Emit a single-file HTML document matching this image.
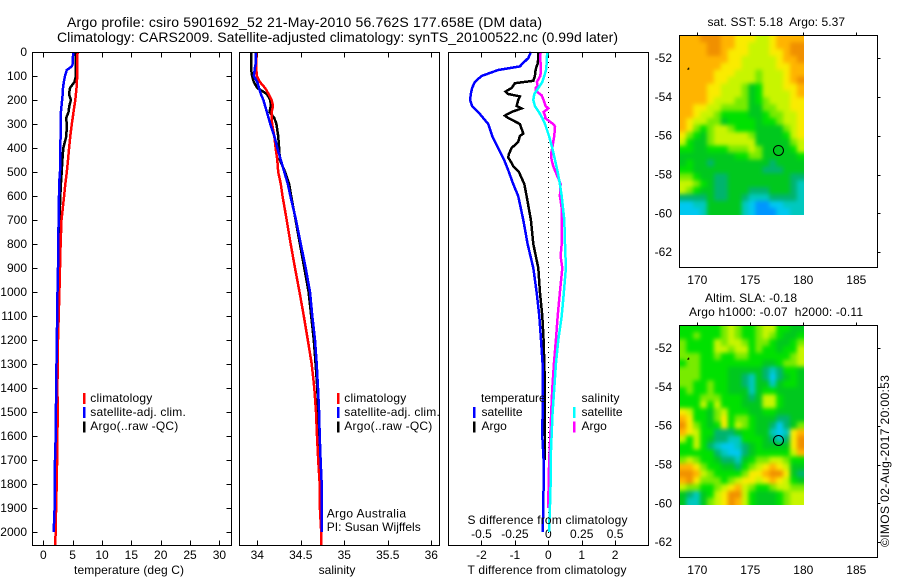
<!DOCTYPE html>
<html lang="en">
<head>
<meta charset="utf-8">
<title>Argo profile 5901692_52</title>
<style>
html,body{margin:0;padding:0;background:#fff;width:900px;height:580px;overflow:hidden}
svg{display:block}
text{font-family:"Liberation Sans",sans-serif;font-size:12px;fill:#000}
.frame{fill:none;stroke:#000;stroke-width:1;shape-rendering:crispEdges}
.title{font-size:14px}
</style>
</head>
<body>
<svg id="chart" xmlns="http://www.w3.org/2000/svg" width="900" height="580" viewBox="0 0 900 580">
  <defs>
    <clipPath id="clip-sst"><rect x="679" y="35" width="125" height="180"/></clipPath>
    <clipPath id="clip-sla"><rect x="679" y="325" width="125" height="180"/></clipPath>
    <filter id="soften" filterUnits="userSpaceOnUse" x="650" y="0" width="200" height="580" color-interpolation-filters="sRGB"><feGaussianBlur stdDeviation="2.2"/></filter>
  </defs>
  <text class="title" x="67" y="27" textLength="475">Argo profile: csiro 5901692_52 21-May-2010 56.762S 177.658E (DM data)</text>
  <text class="title" x="57" y="42" textLength="561">Climatology: CARS2009. Satellite-adjusted climatology: synTS_20100522.nc (0.99d later)</text>

  <g id="temp-panel"></g>
  <g id="sal-panel"></g>
  <g id="diff-panel"></g>
  <g id="sst-map"></g>
  <g id="sla-map"></g>

  <rect class="frame" x="32.5" y="52.5" width="199" height="493"/>
  <rect class="frame" x="239.5" y="52.5" width="200" height="493"/>
  <rect class="frame" x="448.5" y="52.5" width="200" height="493"/>
  <rect class="frame" x="679.5" y="35.5" width="198" height="232"/>
  <rect class="frame" x="679.5" y="325.5" width="198" height="232"/>

  <text x="74" y="574" textLength="110">temperature (deg C)</text>
  <text x="337" y="574" text-anchor="middle">salinity</text>
  <text x="467.5" y="574" textLength="159">T difference from climatology</text>
  <text x="467.5" y="524" textLength="160">S difference from climatology</text>

  <g>
    <rect x="83" y="393" width="2.5" height="11" fill="#f00"/>
    <rect x="83" y="407" width="2.5" height="11" fill="#00f"/>
    <rect x="83" y="421.5" width="2.5" height="11" fill="#000"/>
    <text x="90.3" y="402" textLength="62">climatology</text>
    <text x="90.3" y="416" textLength="95.5">satellite-adj. clim.</text>
    <text x="90.3" y="430" textLength="88">Argo(..raw -QC)</text>
  </g>
  <g>
    <rect x="337" y="393" width="2.5" height="11" fill="#f00"/>
    <rect x="337" y="407" width="2.5" height="11" fill="#00f"/>
    <rect x="337" y="421.5" width="2.5" height="11" fill="#000"/>
    <text x="344.3" y="402" textLength="62">climatology</text>
    <text x="344.3" y="416" textLength="95.5">satellite-adj. clim.</text>
    <text x="344.3" y="430" textLength="88">Argo(..raw -QC)</text>
    <text x="326.7" y="517.3" textLength="79.3">Argo Australia</text>
    <text x="326.7" y="531" textLength="94">PI: Susan Wijffels</text>
  </g>
  <g>
    <text x="481" y="402">temperature</text>
    <rect x="473" y="407" width="2.5" height="11" fill="#00f"/>
    <rect x="473" y="421.5" width="2.5" height="11" fill="#000"/>
    <text x="481.5" y="416" textLength="41">satellite</text>
    <text x="481.5" y="430">Argo</text>
    <text x="581.5" y="402" textLength="38">salinity</text>
    <rect x="573" y="407" width="2.5" height="11" fill="#0ff"/>
    <rect x="573" y="421.5" width="2.5" height="11" fill="#f0f"/>
    <text x="581.5" y="416" textLength="41">satellite</text>
    <text x="581.5" y="430">Argo</text>
  </g>

  <text x="707.5" y="26" textLength="137.5" xml:space="preserve">sat. SST: 5.18  Argo: 5.37</text>
  <text x="705" y="302" textLength="92">Altim. SLA: -0.18</text>
  <text x="689" y="316" textLength="174" xml:space="preserve">Argo h1000: -0.07  h2000: -0.11</text>
  <text transform="translate(889,547) rotate(-90)" textLength="172">©IMOS 02-Aug-2017 20:00:53</text>
</svg>

<script>
var depthLevels = [0,25,50,60,75,100,125,150,175,200,225,250,275,300,350,400,450,500,550,600,700,800,900,1000,1100,1200,1300,1400,1500,1600,1700,1800,1900,2000,2054];

var tempClim = [5.85,5.8,5.8,5.8,5.8,5.8,5.7,5.65,5.55,5.45,5.3,5.15,5.0,4.85,4.6,4.4,4.2,4.0,3.75,3.55,3.1,2.95,2.85,2.75,2.62,2.5,2.45,2.4,2.45,2.4,2.35,2.28,2.18,2.1,2.05];
var tempSat = [5.1,5.05,5.0,4.85,4.0,3.7,3.5,3.35,3.3,3.2,3.1,3.0,2.98,2.96,2.95,2.9,2.87,2.84,2.7,2.68,2.6,2.55,2.5,2.42,2.36,2.3,2.25,2.2,2.15,2.12,2.0,1.95,1.93,1.77,null];
var tempArgo = [5.5,5.5,5.55,5.55,5.55,5.57,5.3,4.55,4.38,4.7,4.43,4.3,3.9,3.98,3.93,3.4,3.25,3.13,3.0,2.9,2.76,2.7,2.65,2.6,2.55,2.5,2.45,2.4,2.38,2.38,2.3,2.25,2.2,null,null];

var salClim = [33.99,33.99,33.99,33.99,33.99,33.995,34.03,34.09,34.13,34.165,34.18,34.165,34.165,34.17,34.195,34.21,34.23,34.24,34.27,34.29,34.338,34.384,34.433,34.485,34.535,34.58,34.625,34.655,34.675,34.686,34.70,34.717,34.72,34.735,34.735];
var salSat = [33.98,33.98,33.98,33.975,33.97,33.96,34.0,34.02,34.04,34.07,34.09,34.11,34.13,34.15,34.195,34.23,34.27,34.31,34.35,34.38,34.445,34.50,34.556,34.606,34.632,34.663,34.683,34.698,34.71,34.717,34.728,34.74,34.743,34.743,null];
var salArgo = [33.93,33.93,33.93,33.93,33.93,33.94,33.96,34.0,34.11,34.15,34.155,34.14,34.195,34.22,34.24,34.25,34.26,34.32,34.365,34.39,34.44,34.49,34.54,34.59,34.62,34.65,34.67,34.69,34.70,34.705,34.715,34.72,34.73,null,null];

var tDiffSat = [-0.52,-0.6,-0.78,-0.85,-1.5,-2.0,-2.2,-2.28,-2.32,-2.34,-2.28,-2.1,-1.95,-1.8,-1.68,-1.5,-1.32,-1.18,-1.05,-0.9,-0.75,-0.62,-0.45,-0.35,-0.27,-0.22,-0.17,-0.16,-0.17,-0.18,-0.14,-0.14,-0.15,-0.17,null];
var sDiffSat = [-0.007,-0.012,-0.012,-0.015,-0.017,-0.03,-0.045,-0.075,-0.105,-0.112,-0.1,-0.07,-0.045,-0.025,0.005,0.03,0.05,0.07,0.087,0.1,0.12,0.125,0.132,0.117,0.1,0.075,0.057,0.045,0.032,0.025,0.017,0.017,0.012,0.005,null];

var tDiffArgoDepth = [0,25,50,60,75,100,120,130,150,165,175,185,200,225,235,250,265,275,300,320,340,350,375,400,425,440,450,475,500,550,600,700,800,900,1000,1100,1200,1300,1400,1500,1600,1700];
var tDiffArgo = [-0.3,-0.3,-0.32,-0.35,-0.38,-0.4,-0.45,-1.0,-1.1,-1.28,-1.2,-0.85,-0.9,-0.95,-0.8,-1.1,-1.3,-1.2,-0.85,-0.8,-0.75,-0.85,-0.9,-1.1,-1.18,-1.2,-1.15,-1.05,-0.88,-0.72,-0.65,-0.52,-0.45,-0.3,-0.25,-0.18,-0.14,-0.12,-0.1,-0.11,-0.1,-0.1];

var sDiffArgoDepth = [0,25,50,75,100,110,125,140,150,160,170,180,200,225,235,250,265,275,290,300,310,350,375,400,425,450,475,500,550,600,650,700,800,850,900,1000,1100,1200,1300,1400,1500,1600,1700,1800,1900];
var sDiffArgo = [-0.057,-0.062,-0.057,-0.055,-0.06,-0.07,-0.085,-0.08,-0.095,-0.095,-0.075,-0.05,-0.035,-0.02,0,-0.035,-0.025,-0.025,0.012,0.037,0.05,0.045,0.037,0.03,0.02,0.025,0.037,0.055,0.092,0.087,0.1,0.1,0.1,0.092,0.105,0.087,0.07,0.057,0.042,0.03,0.022,0.015,0.007,0.002,0];

var depthTicks = [0,100,200,300,400,500,600,700,800,900,1000,1100,1200,1300,1400,1500,1600,1700,1800,1900,2000];
var tempTicks = [0,5,10,15,20,25,30];
var salTicks = [34,34.5,35,35.5,36];
var tDiffTicks = [-2,-1,0,1,2];
var sDiffTicks = [-0.5,-0.25,0,0.25,0.5];
var lonTicks = [170,175,180,185];
var latTicks = [52,54,56,58,60,62];

var argoLon = [177.658];
var argoLat = [56.762];

var heatLonStart = [168.3];
var heatLatStart = [50.83];

var sstLevels = [
[9,9,9,10,10,10,9,9,8,8,8,7,7,8,9,9,9,9],
[9,9,9,9,10,10,9,9,8,8,7,7,7,8,9,9,10,10],
[9,9,9,9,10,10,9,8,8,8,7,7,7,8,8,9,10,10],
[9,9,9,9,9,9,9,8,8,7,7,7,7,7,8,9,9,10],
[9,9,9,9,9,9,8,8,8,7,7,7,7,7,8,8,9,9],
[9,9,9,9,9,8,8,8,7,7,7,6,7,7,7,8,9,9],
[9,9,9,9,9,8,8,7,7,7,7,6,7,7,7,8,9,10],
[9,9,9,9,8,8,7,7,7,6,4,5,7,7,7,8,8,9],
[9,9,9,9,8,8,7,7,7,6,4,5,7,7,7,7,8,9],
[9,9,9,9,8,7,7,7,6,6,4,5,6,7,7,7,8,8],
[9,9,8,8,7,7,6,6,6,6,4,4,6,6,7,7,8,8],
[9,9,8,7,7,6,5,5,5,5,4,4,5,6,6,7,7,8],
[9,8,7,7,6,6,4,5,5,5,5,4,5,5,6,7,7,8],
[9,8,6,5,6,7,7,6,5,5,5,4,4,4,4,6,7,8],
[8,6,5,4,6,7,7,7,7,7,6,4,4,4,4,5,7,8],
[7,5,4,4,6,7,7,7,7,7,7,4,4,4,4,4,6,7],
[5,5,4,4,5,5,5,6,6,6,7,6,4,4,4,4,5,7],
[4,4,4,4,4,4,4,4,5,5,6,6,4,4,4,4,4,5],
[4,5,4,4,3,4,4,4,4,4,4,4,4,3,4,4,4,4],
[5,5,4,4,4,4,4,4,4,4,4,4,3,3,3,4,4,4],
[6,6,5,4,4,3,3,4,4,4,4,4,4,4,4,4,3,3],
[7,7,6,5,4,3,3,4,4,4,4,4,4,4,4,4,3,2],
[7,6,5,4,4,3,3,4,4,4,3,3,3,4,4,4,3,2],
[3,3,3,3,4,3,3,4,4,3,2,2,2,3,3,3,3,2],
[1,1,2,2,4,4,4,4,4,2,1,0,0,1,1,2,2,2],
[1,1,1,2,4,4,4,4,4,2,1,0,0,0,1,1,2,2]
];

var slaLevels = [
[5,5,5,5,5,5,6,7,6,5,5,6,7,7,5,5,4,4],
[5,5,6,5,5,5,6,7,6,5,5,6,7,6,5,4,4,5],
[6,5,5,5,5,7,6,7,7,6,5,6,6,5,4,4,5,6],
[6,5,5,5,5,7,7,6,7,7,5,6,5,5,4,5,5,7],
[6,6,6,5,5,6,5,5,6,6,5,5,5,5,5,5,6,7],
[5,6,6,5,5,5,5,5,5,5,5,5,4,4,5,6,6,7],
[6,6,6,5,5,5,5,4,4,4,4,4,3,2,3,5,5,4],
[6,6,6,5,5,5,5,4,4,3,2,4,3,1,3,4,5,4],
[6,6,5,5,6,5,5,4,4,3,2,4,4,2,4,5,5,4],
[5,6,5,5,6,5,5,4,4,4,2,4,5,5,4,4,4,4],
[5,5,5,6,6,6,5,5,5,4,3,4,7,7,5,4,4,4],
[5,5,5,7,5,7,5,5,5,4,4,4,7,7,5,4,4,4],
[8,7,5,5,4,6,7,5,5,5,4,4,5,5,4,4,4,4],
[9,8,5,5,4,6,8,5,6,6,5,4,4,4,3,3,4,4],
[10,8,6,5,4,5,8,5,7,6,5,4,4,3,1,3,4,6],
[9,8,7,5,5,3,3,3,4,5,5,4,4,2,1,2,8,9],
[7,5,7,5,4,3,3,2,2,5,5,5,4,3,2,3,8,10],
[5,5,7,5,3,2,1,1,2,3,4,5,4,4,4,4,8,10],
[5,5,5,5,5,3,2,1,1,3,4,5,5,5,5,5,7,9],
[6,7,6,5,5,4,3,3,2,4,5,6,6,7,7,6,5,5],
[9,9,8,6,5,5,4,4,3,5,6,7,8,9,8,7,4,4],
[10,10,9,7,6,5,5,5,5,6,8,8,9,10,10,8,4,3],
[9,10,8,6,6,6,5,6,7,8,8,7,8,9,8,7,5,4],
[7,6,6,5,5,6,7,8,9,7,6,5,5,6,7,7,6,6],
[4,3,2,4,5,7,8,10,10,7,5,4,4,4,5,6,7,7],
[4,2,2,4,6,7,8,10,9,7,5,4,4,4,5,6,7,7]
];

var NS = 'http://www.w3.org/2000/svg';
var palette = ['#0096ff','#00c8f0','#00c8be','#00b46e','#00c81e','#00e100','#78eb00','#c8f500','#faeb00','#ffb400','#f09000'];

function yDepth(d){ return 52 + 0.24 * d; }
function xTemp(v){ return 43.3 + 5.87 * v; }
function xSal(v){ return 257.3 + 87 * (v - 34); }
function xTDiff(v){ return 548.3 + 33.4 * v; }
function xSDiff(v){ return 548.3 + 133.6 * v; }
function xLon(v){ return 697.3 + 10.6 * (v - 170); }
function yLatTop(v){ return 58 + 19.42 * (v - 52); }
function yLatBottom(v){ return 348 + 19.42 * (v - 52); }

function drawLine(parent, depths, values, xFn, color, name, width){
  var pts = [];
  for (var i = 0; i < values.length; i++) {
    if (values[i] === null) continue;
    pts.push(xFn(values[i]).toFixed(1) + ',' + yDepth(depths[i]).toFixed(1));
  }
  var el = document.createElementNS(NS, 'polyline');
  
  
  el.setAttribute('points', pts.join(' '));
  el.setAttribute('fill', 'none');
  el.setAttribute('stroke', color);
  el.setAttribute('stroke-width', width);
  el.setAttribute('shape-rendering', 'crispEdges');
  parent.appendChild(el);
}

function drawTick(parent, x1, y1, x2, y2, name){
  var el = document.createElementNS(NS, 'line');
  
  
  el.setAttribute('x1', Math.round(x1) + 0.5);
  el.setAttribute('x2', Math.round(x2) + 0.5);
  el.setAttribute('y1', Math.round(y1) + 0.5);
  el.setAttribute('y2', Math.round(y2) + 0.5);
  el.setAttribute('stroke', '#000');
  el.setAttribute('shape-rendering', 'crispEdges');
  parent.appendChild(el);
}

function drawLabel(parent, x, y, str, anchor, name){
  var el = document.createElementNS(NS, 'text');
  
  
  el.setAttribute('x', x);
  el.setAttribute('y', y);
  el.setAttribute('text-anchor', anchor);
  el.textContent = str;
  parent.appendChild(el);
}

function xAxisTicks(parent, ticks, xFn, bottomOnlyLabels, labelY){
  ticks.forEach(function(t){
    var x = xFn(t);
    drawTick(parent, x, 52, x, 57, 'x-tick-top');
    drawTick(parent, x, 540, x, 545, 'x-tick-bottom');
    drawLabel(parent, x, labelY, String(t), 'middle', 'x-tick-label');
  });
}

/* temperature panel */
var tempPanel = document.getElementById('temp-panel');
xAxisTicks(tempPanel, tempTicks, xTemp, true, 559);
depthTicks.forEach(function(d){
  var y = yDepth(d);
  drawTick(tempPanel, 32, y, 37, y, 'y-tick-left');
  drawTick(tempPanel, 226, y, 231, y, 'y-tick-right');
  drawLabel(tempPanel, 27, y + 4, String(d), 'end', 'depth-tick-label');
});
drawLine(tempPanel, depthLevels, tempArgo, xTemp, '#000', 'temperature-argo-line', 2.5);
drawLine(tempPanel, depthLevels, tempClim, xTemp, '#f00', 'temperature-climatology-line', 2.5);
drawLine(tempPanel, depthLevels, tempSat, xTemp, '#00f', 'temperature-satellite-line', 2.5);

/* salinity panel */
var salPanel = document.getElementById('sal-panel');
xAxisTicks(salPanel, salTicks, xSal, true, 559);
drawLine(salPanel, depthLevels, salArgo, xSal, '#000', 'salinity-argo-line', 2.5);
drawLine(salPanel, depthLevels, salClim, xSal, '#f00', 'salinity-climatology-line', 2.5);
drawLine(salPanel, depthLevels, salSat, xSal, '#00f', 'salinity-satellite-line', 2.5);

/* difference panel */
var diffPanel = document.getElementById('diff-panel');
tDiffTicks.forEach(function(t){
  var x = xTDiff(t);
  drawTick(diffPanel, x, 52, x, 57, 'x-tick-top');
  drawTick(diffPanel, x, 540, x, 545, 'x-tick-bottom');
  drawLabel(diffPanel, x, 559, String(t), 'middle', 't-diff-tick-label');
});
sDiffTicks.forEach(function(s){
  drawLabel(diffPanel, xSDiff(s), 538, String(s), 'middle', 's-diff-tick-label');
});
var zeroLine = document.createElementNS(NS, 'line');


zeroLine.setAttribute('x1', Math.round(xTDiff(0)) + 0.5);
zeroLine.setAttribute('x2', Math.round(xTDiff(0)) + 0.5);
zeroLine.setAttribute('y1', yDepth(0));
zeroLine.setAttribute('y2', 545);
zeroLine.setAttribute('stroke', '#000');
zeroLine.setAttribute('stroke-dasharray', '1 4');
zeroLine.setAttribute('shape-rendering', 'crispEdges');
diffPanel.appendChild(zeroLine);
drawLine(diffPanel, tDiffArgoDepth, tDiffArgo, xTDiff, '#000', 't-difference-argo-line', 2.5);
drawLine(diffPanel, depthLevels, tDiffSat, xTDiff, '#00f', 't-difference-satellite-line', 2.5);
drawLine(diffPanel, sDiffArgoDepth, sDiffArgo, xSDiff, '#f0f', 's-difference-argo-line', 2.5);
drawLine(diffPanel, depthLevels, sDiffSat, xSDiff, '#0ff', 's-difference-satellite-line', 2.5);

/* maps */
function drawMap(parent, levels, yLat, clipId, frameTop, frameBottom, labelY, tag){
  var rows = levels.length;
  var cols = levels[0].length;
  var dLon = 11.75 / cols;
  var dLat = 9.24 / rows;
  var clip = document.createElementNS(NS, 'g');
  clip.setAttribute('clip-path', 'url(#' + clipId + ')');
  var grid = document.createElementNS(NS, 'g');
  grid.setAttribute('filter', 'url(#soften)');
  for (var r = 0; r < rows; r++) {
    for (var c = 0; c < cols; c++) {
      var x0 = xLon(heatLonStart[0] + c * dLon);
      var x1 = xLon(heatLonStart[0] + (c + 1) * dLon);
      var y0 = yLat(heatLatStart[0] + r * dLat);
      var y1 = yLat(heatLatStart[0] + (r + 1) * dLat);
      if (c === 0) x0 -= 10;
      if (c === cols - 1) x1 += 10;
      if (r === 0) y0 -= 10;
      if (r === rows - 1) y1 += 10;
      var cell = document.createElementNS(NS, 'rect');
      
      
      cell.setAttribute('x', x0.toFixed(2));
      cell.setAttribute('y', y0.toFixed(2));
      cell.setAttribute('width', (x1 - x0 + 0.5).toFixed(2));
      cell.setAttribute('height', (y1 - y0 + 0.5).toFixed(2));
      cell.setAttribute('fill', palette[Math.max(0, Math.min(10, Math.round(levels[r][c])))]);
      grid.appendChild(cell);
    }
  }
  clip.appendChild(grid);
  parent.appendChild(clip);

  lonTicks.forEach(function(t){
    var x = xLon(t);
    drawTick(parent, x, frameTop - 3, x, frameTop, 'map-lon-tick');
    drawLabel(parent, x, labelY, String(t), 'middle', 'map-lon-label');
  });
  latTicks.forEach(function(t){
    var y = yLat(t);
    drawTick(parent, 877, y, 880, y, 'map-lat-tick');
    drawLabel(parent, 672, y + 4, '-' + t, 'end', 'map-lat-label');
  });

  var land = document.createElementNS(NS, 'path');
  
  
  var lx = xLon(169.05), ly = yLat(52.6);
  land.setAttribute('d', 'M' + (lx - 2) + ' ' + ly + 'h4v-2h-1v1h-1v1z');
  land.setAttribute('fill', '#000');
  parent.appendChild(land);

  var circle = document.createElementNS(NS, 'circle');
  
  
  circle.setAttribute('cx', xLon(argoLon[0]));
  circle.setAttribute('cy', yLat(argoLat[0]));
  circle.setAttribute('r', 5);
  circle.setAttribute('fill', 'none');
  circle.setAttribute('stroke', '#000');
  circle.setAttribute('stroke-width', 1);
  parent.appendChild(circle);
}
drawMap(document.getElementById('sst-map'), sstLevels, yLatTop, 'clip-sst', 35, 267, 284, 'sst');
drawMap(document.getElementById('sla-map'), slaLevels, yLatBottom, 'clip-sla', 325, 557, 574, 'sla');
</script>
</body>
</html>
